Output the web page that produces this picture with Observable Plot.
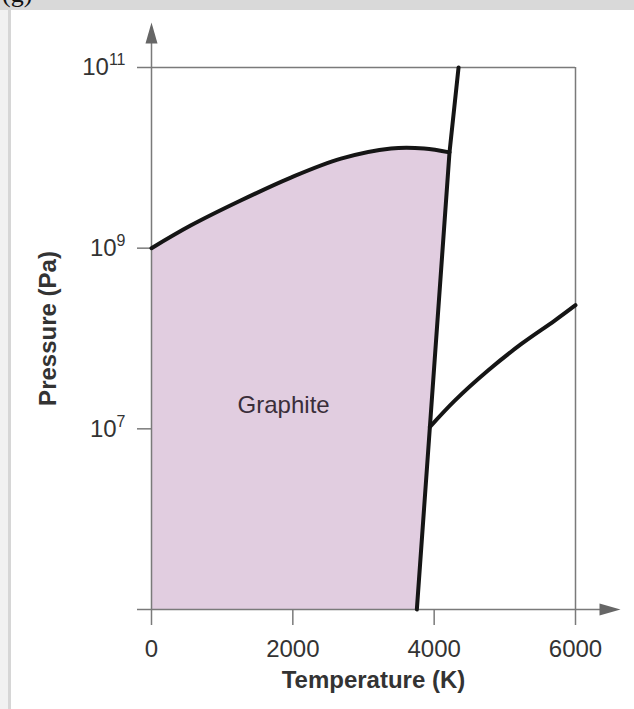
<!DOCTYPE html>
<html>
<head>
<meta charset="utf-8">
<script src="https://cdn.jsdelivr.net/npm/d3@7"></script>
<script src="https://cdn.jsdelivr.net/npm/@observablehq/plot@0.6"></script>
<style>
  html, body { margin: 0; padding: 0; background: #fff; width: 634px; height: 709px; overflow: hidden; }
  #topband { position: absolute; left: 0; top: 0; width: 634px; height: 10px; background: #d9d9d9; overflow: hidden; }
  #leftlight { position: absolute; left: 0; top: 10px; width: 8px; height: 699px; background: #f1f1f1; }
  #leftband { position: absolute; left: 8px; top: 10px; width: 3px; height: 699px; background: #d6d6d6; }
  #tag { position: absolute; left: 2px; top: -19px; font-family: "Liberation Serif", "Times New Roman", serif; font-size: 26px; line-height: 26px; color: #111; }
  #chart { position: absolute; left: 0; top: 0; }
</style>
</head>
<body>
<div id="topband"><div id="tag">(g)</div></div>
<div id="leftlight"></div>
<div id="leftband"></div>
<div id="chart"></div>
<script>
// Graphite / diamond boundary
const diamondT = [0, 553, 1262, 1972, 2681, 3390, 3858, 4217];
const diamondP = [1e9, 1.78e9, 3.37e9, 6.05e9, 9.8e9, 1.27e10, 1.27e10, 1.15e10];
// Melting line (graphite/diamond -> liquid)
const meltT = [3755, 4217, 4345];
const meltP = [1e5, 1.15e10, 1e11];
// Liquid / vapor boundary
const vaporT = [3940, 4288, 4762, 5234, 5706, 6000];
const vaporP = [1.05e7, 2.04e7, 4.42e7, 8.7e7, 1.58e8, 2.34e8];
// Axes
const xTicks = [0, 2000, 4000, 6000];
const yTicks = [1e5, 1e7, 1e9, 1e11];
const yDomain = [1e5, 1e11];
const xDomain = [0, 6000];
const regionLabel = {T: 1870, P: 1.82e7, text: "Graphite"};

const diamond = diamondT.map((T, i) => ({T, P: diamondP[i]}));
const melt = meltT.map((T, i) => ({T, P: meltP[i]}));
const vapor = vaporT.map((T, i) => ({T, P: vaporP[i]}));
// Graphite region polygon
const graphiteRegion = [{T: 0, P: yDomain[0]}, ...diamond, {T: meltT[0], P: meltP[0]}];

const supMap = {"0":"⁰","1":"¹","2":"²","3":"³","4":"⁴","5":"⁵","6":"⁶","7":"⁷","8":"⁸","9":"⁹"};
const fmtY = d => {
  if (d === yDomain[0]) return "";
  const e = Math.round(Math.log10(d));
  return "10" + String(e).split("").map(c => supMap[c]).join("");
};

const arrowSymbol = {
  draw(context) {
    context.moveTo(0, 0);
    context.lineTo(6, 21);
    context.lineTo(-6, 21);
    context.closePath();
  }
};

const axisGray = "#7a7a7a";
const curveColor = "#151515";

const plot = Plot.plot({
  width: 634,
  height: 709,
  marginLeft: 151,
  marginRight: 59,
  marginTop: 67,
  marginBottom: 100,
  style: {fontFamily: "'Liberation Sans', Arial, sans-serif", fontSize: "24px", background: "transparent", overflow: "visible", color: "#333"},
  x: {domain: xDomain, axis: null},
  y: {type: "log", domain: yDomain, axis: null},
  marks: [
    Plot.line(graphiteRegion, {x: "T", y: "P", fill: "#e1cde0", stroke: "none", curve: "linear"}),
    // frame lines
    Plot.ruleY([yDomain[1]], {x1: xDomain[0], x2: xDomain[1], stroke: axisGray, strokeWidth: 1.5}),
    Plot.ruleX([xDomain[1]], {y1: yDomain[1], y2: yDomain[0], stroke: axisGray, strokeWidth: 1.5}),
    // axis lines with arrows
    Plot.ruleX([xDomain[0]], {y1: yDomain[1], y2: yDomain[0], stroke: axisGray, strokeWidth: 1.5, insetTop: -36}),
    Plot.ruleY([yDomain[0]], {x1: xDomain[0], x2: xDomain[1], stroke: axisGray, strokeWidth: 1.5, insetRight: -32}),
    Plot.dot([{T: xDomain[0], P: yDomain[1]}], {x: "T", y: "P", symbol: arrowSymbol, fill: "#666", stroke: "none", dy: -45}),
    Plot.dot([{T: xDomain[1], P: yDomain[0]}], {x: "T", y: "P", symbol: arrowSymbol, fill: "#666", stroke: "none", rotate: 90, dx: 45}),
    // ticks & labels
    Plot.axisX({ticks: xTicks, tickSize: 16, tickPadding: 14, stroke: axisGray, strokeWidth: 1.5, fill: "#333", fontSize: 24, tickFormat: d => String(d), label: null}),
    Plot.axisY({ticks: yTicks, tickSize: 14, tickPadding: 12, stroke: axisGray, strokeWidth: 1.5, fill: "#333", fontSize: 24, tickFormat: fmtY, label: null}),
    // phase boundaries
    Plot.line(diamond, {x: "T", y: "P", stroke: curveColor, strokeWidth: 4, curve: "catmull-rom"}),
    Plot.line(melt, {x: "T", y: "P", stroke: curveColor, strokeWidth: 4, curve: "linear", strokeLinejoin: "round"}),
    Plot.line(vapor, {x: "T", y: "P", stroke: curveColor, strokeWidth: 4, curve: "catmull-rom"}),
    // region label
    Plot.text([regionLabel], {x: "T", y: "P", text: "text", fontSize: 24, fill: "#3a2e3a"}),
    // axis titles
    Plot.text(["Temperature (K)"], {frameAnchor: "bottom", textAnchor: "middle", dy: 78, dx: 10, fontSize: 24, fontWeight: "bold", fill: "#333"}),
    Plot.text(["Pressure (Pa)"], {frameAnchor: "left", textAnchor: "middle", dx: -103, dy: -10, rotate: -90, fontSize: 24, fontWeight: "bold", fill: "#333"})
  ]
});

// Render superscripts as real tspans
const supRev = Object.fromEntries(Object.entries(supMap).map(([k, v]) => [v, k]));
d3.select(plot).selectAll("text").each(function() {
  const s = this.textContent;
  const m = /^10([⁰¹²³⁴⁵⁶⁷⁸⁹]+)$/.exec(s);
  if (!m) return;
  const exp = m[1].split("").map(c => supRev[c]).join("");
  const t = d3.select(this);
  t.text(null);
  t.append("tspan").text("10");
  t.append("tspan").attr("dy", "-10").attr("font-size", "16px").text(exp);
});

document.getElementById("chart").appendChild(plot);
</script>
</body>
</html>
